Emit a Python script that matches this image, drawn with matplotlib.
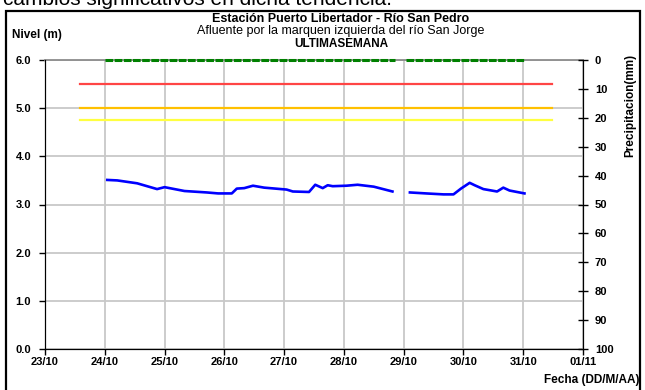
import numpy as np
import pandas as pd
import matplotlib
matplotlib.use('Agg')
import matplotlib.pyplot as plt
import matplotlib.dates as mdates
from matplotlib.patches import Rectangle

plt.rcParams['font.family'] = ['Liberation Sans', 'DejaVu Sans']

# nivel del rio (m), registro de la ultima semana (NaN = sin dato)
nivel_fecha = ["2010-10-24 01:00", "2010-10-24 05:00", "2010-10-24 13:00", "2010-10-24 21:00",
               "2010-10-25 00:00", "2010-10-25 08:00", "2010-10-25 17:00", "2010-10-25 21:30",
               "2010-10-26 03:00", "2010-10-26 05:00", "2010-10-26 08:00", "2010-10-26 11:30",
               "2010-10-26 16:00", "2010-10-27 01:00", "2010-10-27 03:30", "2010-10-27 10:00",
               "2010-10-27 12:30", "2010-10-27 15:30", "2010-10-27 17:30", "2010-10-27 19:30",
               "2010-10-28 01:00", "2010-10-28 05:30", "2010-10-28 12:00", "2010-10-28 19:30",
               "2010-10-29 00:00",
               "2010-10-29 02:30", "2010-10-29 09:00", "2010-10-29 16:00", "2010-10-29 20:00",
               "2010-10-29 23:00", "2010-10-30 02:30", "2010-10-30 04:30", "2010-10-30 08:00",
               "2010-10-30 13:30", "2010-10-30 16:00", "2010-10-30 18:30", "2010-10-31 00:30"]
nivel_m = [3.51, 3.50, 3.44, 3.32,
           3.36, 3.28, 3.25, 3.23,
           3.23, 3.33, 3.34, 3.39,
           3.35, 3.31, 3.27, 3.26,
           3.41, 3.34, 3.40, 3.38,
           3.39, 3.41, 3.37, 3.27,
           np.nan,
           3.25, 3.23, 3.21, 3.21,
           3.33, 3.45, 3.40, 3.32,
           3.27, 3.35, 3.29, 3.23]

# precipitacion (mm)
precip_fecha = ["2010-10-24 00:00", "2010-10-28 20:30", "2010-10-29 00:00",
                "2010-10-29 01:00", "2010-10-31 00:30"]
precip_mm = [0, 0, np.nan, 0, 0]

# niveles de alerta (m)
umbral_fecha = ["2010-10-23 14:00", "2010-10-31 11:30"]
alerta_roja = 5.5
alerta_naranja = 5.0
alerta_amarilla = 4.75

dias = pd.date_range("2010-10-23", "2010-11-01", freq="D")

fig = plt.figure(figsize=(6.45, 3.9), dpi=100)
ax = fig.add_axes([45/645, 1 - 349/390, 538/645, 289/390])

t_umbral = pd.to_datetime(umbral_fecha)
ax.plot(t_umbral, [alerta_roja] * 2, color='#ff4545', lw=1.6, zorder=3)
ax.plot(t_umbral, [alerta_naranja] * 2, color='#ffc000', lw=1.6, zorder=3)
ax.plot(t_umbral, [alerta_amarilla] * 2, color='#ffff40', lw=1.6, zorder=3)

ax.plot(pd.to_datetime(nivel_fecha), nivel_m, color='#0000ff', lw=1.9, zorder=4)

ax.set_ylim(0, 6)
ax.set_yticks(np.arange(0, 6.1, 1.0))
ax.set_yticklabels([f"{v:.1f}" for v in np.arange(0, 6.1, 1.0)])
ax.set_xlim(dias[0], dias[-1])
ax.set_xticks(dias)
ax.xaxis.set_major_formatter(mdates.DateFormatter('%d/%m'))
ax.grid(True, color='#c8c8c8', lw=1.3)
ax.set_axisbelow(True)

for lab in ax.get_xticklabels() + ax.get_yticklabels():
    lab.set_fontweight('bold')
    lab.set_fontsize(8)
ax.tick_params(axis='both', direction='out', length=4, width=1, color='black')
ax.tick_params(axis='y', pad=6)
ax.tick_params(axis='x', pad=2)
ax.spines['top'].set_color('#8c8c8c')
ax.spines['top'].set_linewidth(1.3)
for s in ['left', 'bottom', 'right']:
    ax.spines[s].set_color('black')

# eje derecho de precipitacion, invertido
ax2 = ax.twinx()
ax2.plot(pd.to_datetime(precip_fecha), precip_mm, color='#008000', lw=2.2,
         linestyle=(0, (2.5, 0.5)), clip_on=False, zorder=5)
ax2.set_ylim(100, 0)
ax2.set_yticks(np.arange(0, 101, 10))
ax2.tick_params(axis='y', direction='inout', length=7, width=1, pad=5, labelsize=8)
for lab in ax2.get_yticklabels():
    lab.set_fontweight('bold')
ax2.spines['right'].set_color('black')
ax2.spines['top'].set_visible(False)
ax2.set_xlim(dias[0], dias[-1])

# titulos y etiquetas
cx = 341 / 645
fig.text(cx, 1 - 19/390, "Estación Puerto Libertador - Río San Pedro", ha='center', va='center',
         fontsize=9, fontweight='bold')
fig.text(cx, 1 - 31/390, "Afluente por la marquen izquierda del río San Jorge", ha='center', va='center',
         fontsize=9)
fig.text(cx, 1 - 44/390, "ULTIMASEMANA", ha='center', va='center', fontsize=8.5, fontweight='bold')
fig.text(12/645, 1 - 35/390, "Nivel (m)", ha='left', va='center', fontsize=8.5, fontweight='bold')
fig.text(630/645, 1 - 105/390, "Precipitacion(mm)", ha='center', va='center', rotation=90,
         fontsize=8.5, fontweight='bold')
fig.text(640/645, 1 - 380/390, "Fecha (DD/M/AA)", ha='right', va='center', fontsize=8.5,
         fontweight='bold')

# texto del documento que queda cortado arriba
fig.text(3/645, 1 - 5/390, "cambios significativos en dicha tendencia.", ha='left', va='baseline',
         fontsize=15)

fig.patches.append(Rectangle((6/645, -0.05), 634/645, 1.05 - 11/390, transform=fig.transFigure,
                             fill=False, edgecolor='black', lw=1.6))

fig.savefig('out.png', dpi=100)
